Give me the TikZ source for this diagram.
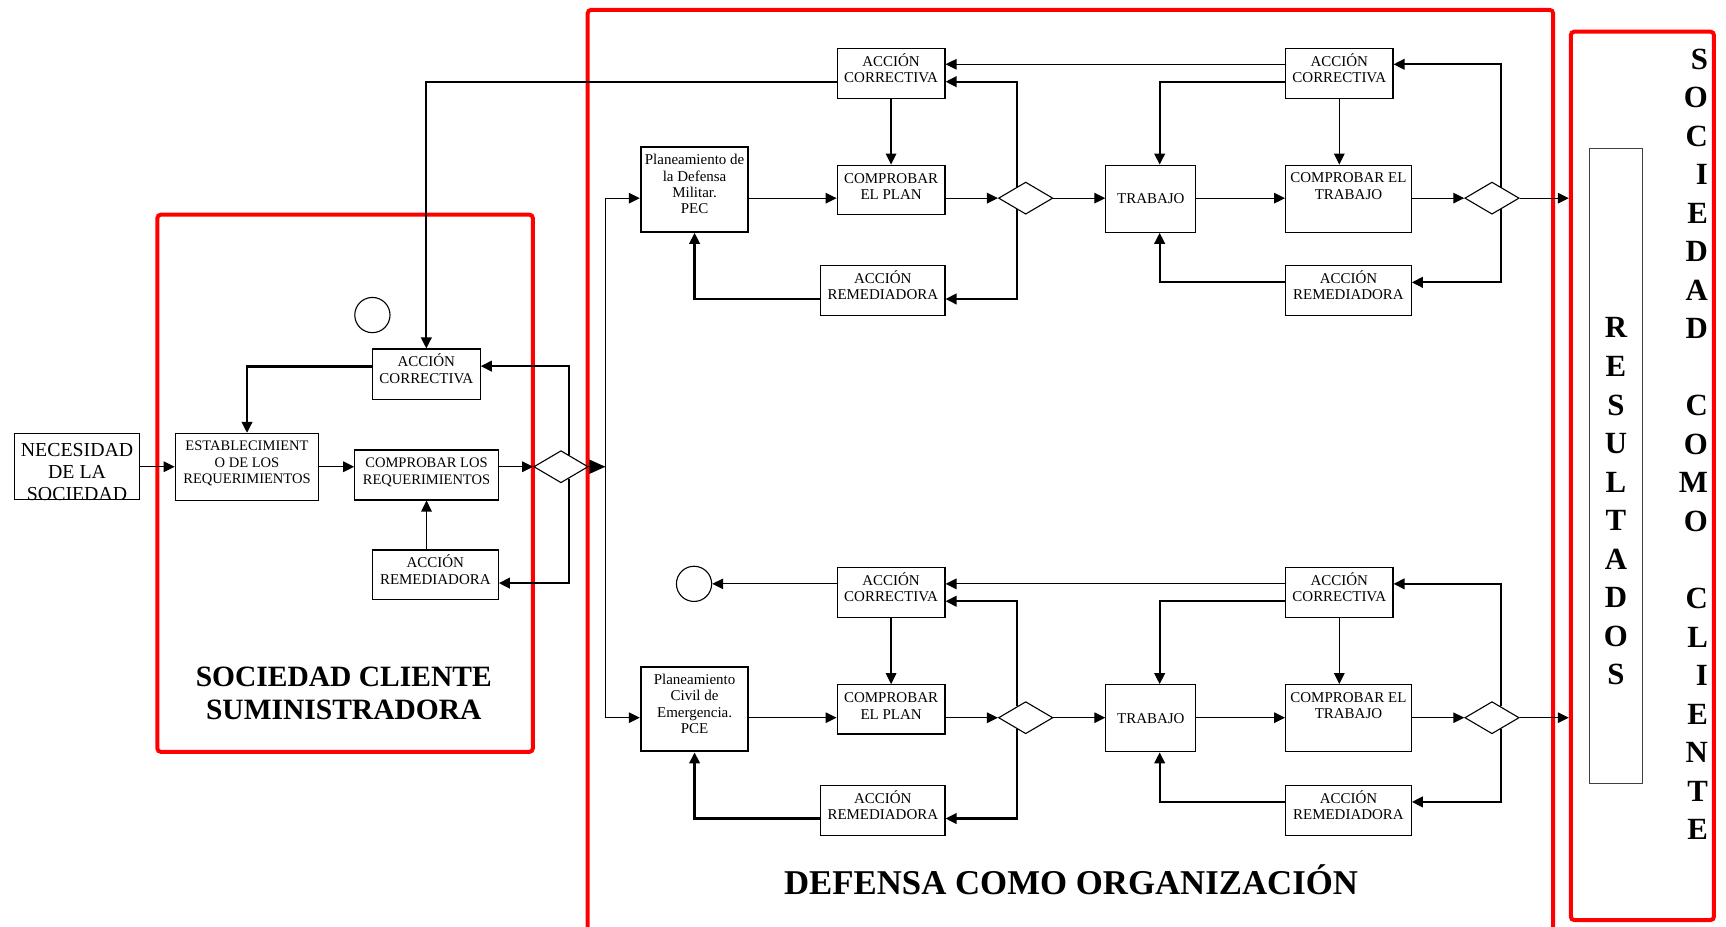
\documentclass[tikz,border=0pt]{standalone}
\usepackage{fontspec}
\setmainfont{Liberation Serif}
\usetikzlibrary{arrows.meta}
\usetikzlibrary{calc}
\usetikzlibrary{shapes.geometric}

\tikzset{
  box/.style 2 args={draw, line width=0.5pt, minimum width=#1*0.5pt, minimum height=#2*0.5pt, inner sep=0pt, font=\fontsize{6.8}{7.4}\selectfont},
  planbox/.style 2 args={box={#1}{#2}, line width=1pt},
  boxtext/.style={anchor=north, inner sep=0pt, align=center, font=\fontsize{6.8}{7.4}\selectfont},
  smalltext/.style={boxtext, font=\fontsize{6.6}{7.6}\selectfont},
  decision/.style={draw, diamond, line width=0.5pt, minimum width=24.7pt, minimum height=14.6pt, inner sep=0pt},
  endpoint/.style={draw, circle, line width=0.5pt, minimum size=16pt, inner sep=0pt},
  redframe/.style 2 args={draw=red, line width=1.8pt, rounded corners=1.5pt, minimum width=#1*0.5pt, minimum height=#2*0.5pt, inner sep=0pt},
  arr/.style={line width=0.55pt, -{Triangle[length=5pt,width=4.8pt]}},
  thkarr/.style={arr, line width=1pt},
  bigarr/.style={line width=0.55pt, -{Triangle[length=7.3pt,width=6.4pt]}},
  headline/.style={align=center, inner sep=0pt, font=\fontsize{13.4}{14.7}\selectfont\bfseries},
  letters/.style={inner sep=0pt, font=\fontsize{14}{17.5}\selectfont\bfseries}
}

\begin{document}
\begin{tikzpicture}[x=0.5pt, y=-0.5pt]
    \useasboundingbox (0,0) rectangle (1568,842);

    \node[redframe={341}{488}] (cli) at (313.5,439) {};
    \node[redframe={877}{880}] (org) at (972.4,449) {};
    \node[redframe={130}{807}] (soc) at (1492,432.3) {};
    \node[headline] (clitxt) at (312.3,630) {SOCIEDAD CLIENTE\\SUMINISTRADORA};
    \node[headline, font=\fontsize{15.8}{17}\selectfont\bfseries] (orgtxt) at (973,799) {DEFENSA COMO ORGANIZACIÓN};

    \node[box={114}{60}] (nec) at (70,424) {};
    \node[boxtext, font=\fontsize{9}{9.9}\selectfont] (nectxt) at ([yshift=-4.5pt]nec.north) {NECESIDAD\\DE LA\\SOCIEDAD};
    \node[box={130.4}{60.6}] (estab) at (224.4,424) {};
    \node[smalltext] (estabtxt) at ([yshift=-3.4pt]estab.north) {ESTABLECIMIENT\\O DE LOS\\REQUERIMIENTOS};
    \node[box={130.4}{45.4}] (creq) at (387.5,431.5) {};
    \node[smalltext] (creqtxt) at ([yshift=-3.6pt]creq.north) {COMPROBAR LOS\\REQUERIMIENTOS};
    \node[box={98}{45.5}] (corrL) at (387.3,339.8) {};
    \node[boxtext] (corrLtxt) at ([yshift=-2.3pt]corrL.north) {ACCIÓN\\CORRECTIVA};
    \node[box={114.4}{45.4}] (remL) at (395.5,522.3) {};
    \node[boxtext] (remLtxt) at ([yshift=-2.3pt]remL.north) {ACCIÓN\\REMEDIADORA};
    \node[endpoint] (circL) at (338.3,286.2) {};
    \node[decision] (diaL) at (509.6,424) {};
    \coordinate (bus) at (550,424);

    \node[planbox={97.5}{76.7}] (pec) at (631,172.2) {};
    \node[boxtext] (pectxt) at ([yshift=-3.6pt]pec.north) {Planeamiento de\\la Defensa\\Militar.\\PEC};
    \node[box={98}{44.7}] (cplan1) at (809.5,172.4) {};
    \node[boxtext] (cplan1txt) at ([yshift=-3.8pt]cplan1.north) {COMPROBAR\\EL PLAN};
    \node[box={98}{45.4}] (corr1) at (809.5,66.6) {};
    \node[boxtext] (corr1txt) at ([yshift=-2.3pt]corr1.north) {ACCIÓN\\CORRECTIVA};
    \node[box={113}{45.4}] (rem1) at (802,264.1) {};
    \node[boxtext] (rem1txt) at ([yshift=-2.3pt]rem1.north) {ACCIÓN\\REMEDIADORA};
    \node[decision] (dia1) at (931.8,180) {};
    \node[box={81.8}{61}] (trab1) at (1045.5,180.5) {TRABAJO};
    \node[box={114.2}{61}] (ctrab1) at (1225,180.5) {};
    \node[boxtext] (ctrab1txt) at ([yshift=-3.6pt]ctrab1.north) {COMPROBAR EL\\TRABAJO};
    \node[box={97.6}{45.4}] (corr2) at (1216.7,66.6) {};
    \node[boxtext] (corr2txt) at ([yshift=-2.3pt]corr2.north) {ACCIÓN\\CORRECTIVA};
    \node[box={114.2}{45.4}] (rem2) at (1225,264.1) {};
    \node[boxtext] (rem2txt) at ([yshift=-2.3pt]rem2.north) {ACCIÓN\\REMEDIADORA};
    \node[decision] (dia2) at (1355.4,180) {};

    \node[planbox={97.5}{76.7}] (pce) at (631,644.2) {};
    \node[boxtext] (pcetxt) at ([yshift=-3.6pt]pce.north) {Planeamiento\\Civil de\\Emergencia.\\PCE};
    \node[box={98}{44.7}] (cplan2) at (809.5,644.4) {};
    \node[boxtext] (cplan2txt) at ([yshift=-3.8pt]cplan2.north) {COMPROBAR\\EL PLAN};
    \node[box={98}{45.4}] (corr3) at (809.5,538.6) {};
    \node[boxtext] (corr3txt) at ([yshift=-2.3pt]corr3.north) {ACCIÓN\\CORRECTIVA};
    \node[box={113}{45.4}] (rem3) at (802,736.1) {};
    \node[boxtext] (rem3txt) at ([yshift=-2.3pt]rem3.north) {ACCIÓN\\REMEDIADORA};
    \node[endpoint] (circR) at (630.5,530.4) {};
    \node[decision] (dia3) at (931.8,652) {};
    \node[box={81.8}{61}] (trab2) at (1045.5,652.5) {TRABAJO};
    \node[box={114.2}{61}] (ctrab2) at (1225,652.5) {};
    \node[boxtext] (ctrab2txt) at ([yshift=-3.6pt]ctrab2.north) {COMPROBAR EL\\TRABAJO};
    \node[box={97.6}{45.4}] (corr4) at (1216.7,538.6) {};
    \node[boxtext] (corr4txt) at ([yshift=-2.3pt]corr4.north) {ACCIÓN\\CORRECTIVA};
    \node[box={114.2}{45.4}] (rem4) at (1225,736.1) {};
    \node[boxtext] (rem4txt) at ([yshift=-2.3pt]rem4.north) {ACCIÓN\\REMEDIADORA};
    \node[decision] (dia4) at (1355.4,652) {};

    \node[draw=black!75, line width=0.5pt, minimum width=24.25pt, minimum height=288.5pt, inner sep=0pt] (res) at (1468,423.2) {};
    \node[letters, align=center] (restxt) at (1468,455.5) {R\\E\\S\\U\\L\\T\\A\\D\\O\\S};
    \node[letters, align=right, anchor=east] (soctxt) at (1552,403.5) {S\\O\\C\\I\\E\\D\\A\\D\\~\\C\\O\\M\\O\\~\\C\\L\\I\\E\\N\\T\\E};

    \draw[arr] (nec.east) -- (estab.west);
    \draw[arr] (estab.east) -- (estab.east -| creq.west);
    \draw[arr] (diaL.west -| creq.east) -- (diaL.west);
    \draw[bigarr] (diaL.east) -- (bus);
    \draw[arr] (bus) |- (pec.west |- dia1);
    \draw[arr] (bus) |- (pce.west |- dia3);
    \draw[thkarr] ([xshift=3.7pt,yshift=-2.2pt]diaL.north) |- ([yshift=3.6pt]corrL.east);
    \draw[thkarr] ([xshift=3.7pt,yshift=2.2pt]diaL.south) |- ([yshift=-3.7pt]remL.east);
    \draw[thkarr] ([yshift=3.4pt]corrL.west) -| (estab.north);
    \draw[arr] (creq.south |- remL.north) -- (creq.south);
    \draw[thkarr] ([yshift=-3.8pt]corr1.west) -| (corrL.north);

    \draw[arr] (pec.east |- dia1) -- (cplan1.west |- dia1);
    \draw[arr] (cplan1.east |- dia1) -- (dia1.west);
    \draw[arr] (dia1.east) -- (trab1.west |- dia1);
    \draw[arr] (trab1.east |- dia2) -- (ctrab1.west |- dia2);
    \draw[arr] (ctrab1.east |- dia2) -- (dia2.west);
    \draw[arr] (dia2.east) -- (dia2 -| soc.west);
    \draw[arr] (corr1.south) -- (cplan1.north);
    \draw[arr] (corr2.south) -- (corr2.south |- ctrab1.north);
    \draw[thkarr] ([xshift=-4.1pt,yshift=-2.4pt]dia1.north) |- ([yshift=-3.8pt]corr1.east);
    \draw[thkarr] ([xshift=-4.1pt,yshift=2.4pt]dia1.south) |- ([yshift=-3.75pt]rem1.east);
    \draw[thkarr] ([yshift=-3.75pt]rem1.west) -| (pec.south);
    \draw[thkarr] ([xshift=4pt,yshift=-2.4pt]dia2.north) |- ([yshift=4.1pt]corr2.east);
    \draw[thkarr] ([xshift=4pt,yshift=2.4pt]dia2.south) |- ([yshift=3.8pt]rem2.east);
    \draw[arr] ([yshift=4.1pt]corr2.west) -- ([yshift=4.1pt]corr1.east);
    \draw[thkarr] ([yshift=-3.8pt]corr2.west) -| ([xshift=4pt]trab1.north);
    \draw[thkarr] ([yshift=3.8pt]rem2.west) -| ([xshift=4pt]trab1.south);

    \draw[arr] (pce.east |- dia3) -- (cplan2.west |- dia3);
    \draw[arr] (cplan2.east |- dia3) -- (dia3.west);
    \draw[arr] (dia3.east) -- (trab2.west |- dia3);
    \draw[arr] (trab2.east |- dia4) -- (ctrab2.west |- dia4);
    \draw[arr] (ctrab2.east |- dia4) -- (dia4.west);
    \draw[arr] (dia4.east) -- (dia4 -| soc.west);
    \draw[arr] (corr3.south) -- (cplan2.north);
    \draw[arr] (corr4.south) -- (corr4.south |- ctrab2.north);
    \draw[arr] ([yshift=4.1pt]corr3.west) -- (circR.east);
    \draw[thkarr] ([xshift=-4.1pt,yshift=-2.4pt]dia3.north) |- ([yshift=-3.8pt]corr3.east);
    \draw[thkarr] ([xshift=-4.1pt,yshift=2.4pt]dia3.south) |- ([yshift=-3.75pt]rem3.east);
    \draw[thkarr] ([yshift=-3.75pt]rem3.west) -| (pce.south);
    \draw[thkarr] ([xshift=4pt,yshift=-2.4pt]dia4.north) |- ([yshift=4.1pt]corr4.east);
    \draw[thkarr] ([xshift=4pt,yshift=2.4pt]dia4.south) |- ([yshift=3.8pt]rem4.east);
    \draw[arr] ([yshift=4.1pt]corr4.west) -- ([yshift=4.1pt]corr3.east);
    \draw[thkarr] ([yshift=-3.8pt]corr4.west) -| ([xshift=4pt]trab2.north);
    \draw[thkarr] ([yshift=3.8pt]rem4.west) -| ([xshift=4pt]trab2.south);
\end{tikzpicture}
\end{document}
